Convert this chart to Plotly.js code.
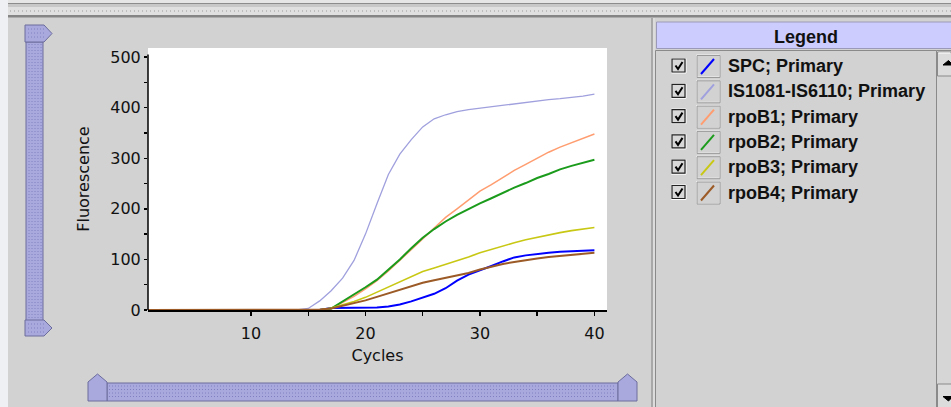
<!DOCTYPE html>
<html>
<head>
<meta charset="utf-8">
<script src="https://cdn.plot.ly/plotly-3.0.1.min.js"></script>
<style>
html,body{margin:0;padding:0;background:#d2d2d2;}
#chart{width:951px;height:407px;}
</style>
</head>
<body>
<div id="chart"></div>
<script>
// ---- data ----
const cycles = [1,2,3,4,5,6,7,8,9,10,11,12,13,14,15,16,17,18,19,20,21,22,23,24,25,26,27,28,29,30,31,32,33,34,35,36,37,38,39,40];
const seriesNames = ["SPC; Primary","IS1081-IS6110; Primary","rpoB1; Primary","rpoB2; Primary","rpoB3; Primary","rpoB4; Primary"];
const spc    = [0,0,0,0,0,0,0,0,0,0,0,0,0,0,0,0,4,4,4,5,5,7,11,17,24,32,43,58,70,78,87,96,104,108,111,113,115,116,117,118];
const is1081 = [0,0,0,0,0,0,0,0,0,0,0,0,0,0,3,18,38,63,98,150,210,268,308,337,362,378,386,392,396,399,402,405,408,411,413,416,418,420,423,427];
const rpoB1  = [0,0,0,0,0,0,0,0,0,0,0,0,0,0,0,0,3,15,27,42,58,77,98,120,142,163,183,200,218,235,248,262,276,288,300,312,322,331,340,348];
const rpoB2  = [0,0,0,0,0,0,0,0,0,0,0,0,0,0,0,0,3,17,30,45,60,80,100,122,143,160,175,188,200,211,221,232,242,251,261,269,278,285,291,297];
const rpoB3  = [0,0,0,0,0,0,0,0,0,0,0,0,0,0,0,0,4,10,17,25,35,45,56,66,76,83,90,97,105,113,120,126,133,139,144,149,153,157,160,163];
const rpoB4  = [0,0,0,0,0,0,0,0,0,0,0,0,0,0,0,1,3,8,13,19,26,33,40,47,54,59,64,68,73,80,86,91,95,99,102,105,107,109,111,113];
const xTickVals = [10,15,20,25,30,35,40];
const xTickText = ["10","","20","","30","","40"];
const yTickVals = [0,50,100,150,200,250,300,350,400,450,500];
const yTickText = ["0","","100","","200","","300","","400","","500"];
const xTitle = "Cycles";
const yTitle = "Fluorescence";
const legendTitle = "Legend";

// ---- styles ----
const seriesValues = [spc, is1081, rpoB1, rpoB2, rpoB3, rpoB4];
const colors = ["#0000ff","#a0a0de","#ff9d70","#1b9b1b","#c8c814","#9b5a26"];
const widths = [2, 1.3, 1.5, 2, 1.6, 2];

const W = 951, H = 407;
const M = {l:148, r:344, t:48, b:97};
const PW = W - M.l - M.r, PH = H - M.t - M.b;
const PX = x => (x - M.l) / PW;
const PY = y => (H - M.b - y) / PH;

const traces = seriesNames.map((n, i) => ({
  type: 'scatter', mode: 'lines', name: n,
  x: cycles, y: seriesValues[i],
  line: {color: colors[i], width: widths[i]},
  hoverinfo: 'skip'
}));

const shapes = [];
const ann = [];
function rect(x0,y0,x1,y1,fill,lc,lw){shapes.push({type:'rect',xref:'paper',yref:'paper',x0:PX(x0),x1:PX(x1),y0:PY(y0),y1:PY(y1),fillcolor:fill||'rgba(0,0,0,0)',line:{color:lc||'rgba(0,0,0,0)',width:lw===undefined?(lc?1:0):lw}});}
function line(x0,y0,x1,y1,c,w,dash){shapes.push({type:'line',xref:'paper',yref:'paper',x0:PX(x0),x1:PX(x1),y0:PY(y0),y1:PY(y1),line:{color:c,width:w||1,dash:dash||'solid'}});}
function path(pts,fill,lc,lw,closed){let d='M '+pts.map(p=>PX(p[0])+','+PY(p[1])).join(' L ')+(closed?' Z':'');shapes.push({type:'path',xref:'paper',yref:'paper',path:d,fillcolor:fill||'rgba(0,0,0,0)',line:{color:lc||'rgba(0,0,0,0)',width:lw||1}});}

// left light strip
rect(0,0,8,H,'#eef0f3');
// top splitter bar
rect(8,0,W,3,'#e6e6e6');
line(8,3.5,W,3.5,'#8c8c8c',1);
rect(8,4,W,7,'#c8c8c8');
rect(8,7,W,15,'#e0e0e0');
line(10,11,W,11,'#9c9c9c',1,'1px,3px');
rect(8,15,W,17.5,'#858585');
// vertical separator
line(652,18,652,H,'#9a9a9a',1.5);
line(654,18,654,H,'#e6e6e6',1);

// left vertical slider
const sFill = '#a9a9de', sLine = '#6c6c9c', sDot = '#8080c0';
rect(26,42,43,321,sFill,sLine,1);
[29,32,35,38,41].forEach(x=>line(x,44,x,319,sDot,1,'1px,2px'));
path([[25,25],[44,25],[52,33.5],[44,42],[25,42]],sFill,sLine,1,true);
[29,33,37].forEach(y=>line(28,y,44,y,sDot,1,'1px,2px'));
path([[25,320],[44,320],[52,328],[44,336],[25,336]],sFill,sLine,1,true);
[324,328,332].forEach(y=>line(28,y,44,y,sDot,1,'1px,2px'));
// bottom horizontal slider
rect(107,383,618,401,sFill,sLine,1);
[386,389.5,393,396.5].forEach(y=>line(109,y,616,y,sDot,1,'1px,2px'));
path([[88,401],[88,382],[97.5,374],[107,382],[107,401]],sFill,sLine,1,true);
path([[618,401],[618,382],[627.5,374],[637,382],[637,401]],sFill,sLine,1,true);

// legend panel
rect(656.5,22,W+2,48.5,'#ccccff','#9a9ab8',1);
rect(655.5,50.5,936.5,H+2,'rgba(0,0,0,0)','#8a8a8a',1);
rect(936.5,50.5,W+2,H+2,'#d6d6d6','#8a8a8a',1);
rect(937.5,52,W+2,76,'#dcdcdc','#8a8a8a',1);
line(938.5,53,950,53,'#ffffff',1);
path([[943,65],[953,65],[948.5,60.5]],'#000000','#000000',1,true);
rect(937.5,384,W+2,H+2,'#dcdcdc','#8a8a8a',1);
path([[943,396.5],[953,396.5],[948.5,401]],'#000000','#000000',1,true);
ann.push({xref:'paper',yref:'paper',x:PX(806),y:PY(37),text:'<b>'+legendTitle+'</b>',showarrow:false,xanchor:'center',yanchor:'middle',font:{family:'Liberation Sans, Arial, sans-serif',size:18,color:'#111'}});

seriesNames.forEach((n,i)=>{
  const cy = 66 + i*25.3;
  // checkbox
  rect(671.5,cy-7.5,686,cy+7,'rgba(0,0,0,0)','#ffffff',1);
  rect(672,cy-7,685,cy+6,'#d8d8d8','#222222',1.2);
  path([[675.5,cy-0.5],[678,cy+3],[682.5,cy-4]],null,'#000000',2,false);
  // swatch box
  rect(696.5,cy-11,719.5,cy+11,'rgba(0,0,0,0)','#f4f4f4',1);
  rect(697,cy-10.5,720,cy+11.5,'rgba(0,0,0,0)','#9a9a9a',1);
  line(701,cy+8,714,cy-7,colors[i],2);
  ann.push({xref:'paper',yref:'paper',x:PX(726),y:PY(cy),text:'<b>'+n+'</b>',showarrow:false,xanchor:'left',yanchor:'middle',font:{family:'Liberation Sans, Arial, sans-serif',size:18,color:'#111'}});
});

// y axis line (stops just above 500)
shapes.push({type:'line',xref:'paper',yref:'y',x0:0,x1:0,y0:0,y1:505,line:{color:'#000',width:1.5}});

const tickFont = {family:'DejaVu Sans, sans-serif', size:16, color:'#111'};
const xr = [1, 41.1], yr = [0, 518];
const layout = {
  width: W, height: H,
  margin: {l:M.l, r:M.r, t:M.t, b:M.b, pad:0},
  paper_bgcolor: '#d2d2d2', plot_bgcolor: '#ffffff',
  showlegend: false,
  xaxis: {range:xr, showline:true, linecolor:'#000', linewidth:1.5, mirror:false,
    ticks:'outside', ticklen:4, tickwidth:1.5, tickcolor:'#000',
    tickmode:'array', tickvals:xTickVals, ticktext:xTickText,
    showgrid:false, zeroline:false, tickfont:tickFont, ticklabelstandoff:4,
    title:{text:xTitle, font:tickFont, standoff:8}, fixedrange:true},
  xaxis2: {overlaying:'x', anchor:'y', side:'bottom', range:xr, showline:false,
    ticks:'inside', ticklen:4, tickwidth:1.5, tickcolor:'#000',
    tickmode:'array', tickvals:xTickVals, showticklabels:false, showgrid:false, zeroline:false},
  yaxis: {range:yr, showline:false,
    ticks:'outside', ticklen:3, tickwidth:1.5, tickcolor:'#000',
    tickmode:'array', tickvals:yTickVals, ticktext:yTickText,
    showgrid:false, zeroline:false, tickfont:tickFont,
    title:{text:yTitle, font:tickFont, standoff:16}, fixedrange:true},
  yaxis2: {overlaying:'y', anchor:'x', side:'left', range:yr, showline:false,
    ticks:'inside', ticklen:3, tickwidth:1.5, tickcolor:'#000',
    tickmode:'array', tickvals:yTickVals, showticklabels:false, showgrid:false, zeroline:false},
  shapes: shapes,
  annotations: ann
};
Plotly.newPlot('chart', traces, layout, {displayModeBar:false, staticPlot:true});
</script>
</body>
</html>
